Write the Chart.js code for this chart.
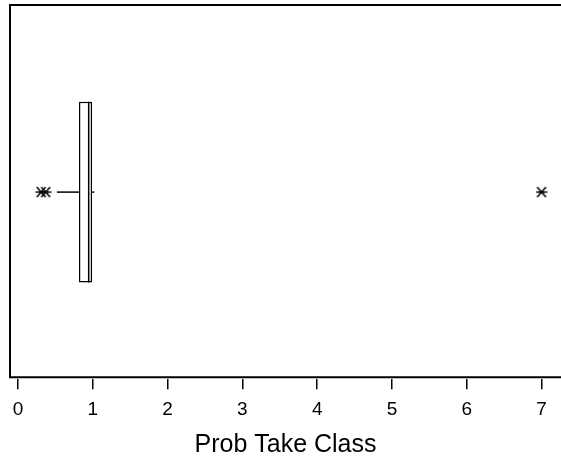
<!DOCTYPE html>
<html lang="en">
<head>
<meta charset="UTF-8">
<title>Prob Take Class</title>
<script src="https://cdn.jsdelivr.net/npm/chart.js"></script>
<style>
  html, body { margin: 0; padding: 0; background: #fff; overflow: hidden; }
  canvas { display: block; }
</style>
</head>
<body>
<canvas id="grafico" width="561" height="457"></canvas>
<script>
// Boxplot data
const groups = ['Prob Take Class'];
const boxLow = [0.815];      // Q1
const boxHigh = [0.99];      // Q3
const medians = [0.945];
const whiskerLow = [0.52];
const whiskerHigh = [1.02];
const outliers = [0.31, 0.37, 7.0];
const tickValues = [0, 1, 2, 3, 4, 5, 6, 7];
const axisTitle = 'Prob Take Class';

const FONT = "'Liberation Sans', Arial, sans-serif";

// asterisk marker used for outliers
function makeStar(size) {
    const c = document.createElement('canvas');
    c.width = size; c.height = size;
    const g = c.getContext('2d');
    const m = size / 2, r = size / 2 - 0.5;
    g.strokeStyle = '#000';
    g.lineWidth = 1.6;
    g.beginPath();
    g.moveTo(m - r, m); g.lineTo(m + r, m);
    g.moveTo(m - r * 0.8, m - r * 0.9); g.lineTo(m + r * 0.8, m + r * 0.9);
    g.moveTo(m - r * 0.8, m + r * 0.9); g.lineTo(m + r * 0.8, m - r * 0.9);
    g.stroke();
    return c;
}

// median, whiskers and the frame around the plot
const boxExtras = {
    id: 'boxExtras',
    afterDatasetsDraw(chart) {
        const ctx = chart.ctx;
        const x = chart.scales.x;
        const a = chart.chartArea;
        const line = (x1, y1, x2, y2) => {
            ctx.beginPath(); ctx.moveTo(x1, y1); ctx.lineTo(x2, y2); ctx.stroke();
        };
        ctx.save();
        ctx.strokeStyle = '#000';
        ctx.lineWidth = 1.5;
        chart.getDatasetMeta(0).data.forEach((bar, i) => {
            const top = bar.y - bar.height / 2;
            const bottom = bar.y + bar.height / 2;
            const xm = x.getPixelForValue(medians[i]);
            line(xm, top, xm, bottom);
            line(x.getPixelForValue(whiskerLow[i]), bar.y, x.getPixelForValue(boxLow[i]), bar.y);
            line(x.getPixelForValue(boxHigh[i]), bar.y, x.getPixelForValue(whiskerHigh[i]), bar.y);
        });
        ctx.lineWidth = 2;
        ctx.beginPath();
        ctx.moveTo(a.right + 20, a.top);
        ctx.lineTo(a.left, a.top);
        ctx.lineTo(a.left, a.bottom - 2);
        ctx.lineTo(a.right + 20, a.bottom - 2);
        ctx.stroke();
        ctx.restore();
    }
};

const ctx = document.getElementById('grafico').getContext('2d');
const chart = new Chart(ctx, {
    type: 'bar',
    data: {
        labels: groups,
        datasets: [
            {
                label: 'box',
                data: groups.map((g, i) => [boxLow[i], boxHigh[i]]),
                backgroundColor: '#fff',
                borderColor: '#000',
                borderWidth: 1.5,
                borderSkipped: false,
                categoryPercentage: 1,
                barPercentage: 0.483
            },
            {
                type: 'scatter',
                label: 'outliers',
                data: outliers.map(v => ({ x: v, y: groups[0] })),
                pointStyle: makeStar(12),
                pointRadius: 6,
                pointHoverRadius: 6
            }
        ]
    },
    options: {
        responsive: false,
        animation: false,
        indexAxis: 'y',
        layout: { autoPadding: false, padding: { left: 10, top: 5, right: 0, bottom: -3 } },
        plugins: {
            legend: { display: false },
            tooltip: { enabled: false }
        },
        scales: {
            x: {
                type: 'linear',
                min: -0.107,
                max: 7.26,
                afterBuildTicks: s => { s.ticks = tickValues.map(v => ({ value: v })); },
                afterFit: s => { s.paddingLeft = 0; s.paddingRight = 0; },
                grid: { drawOnChartArea: false, drawTicks: true, tickLength: 10, color: '#000', lineWidth: 1.5 },
                border: { display: false },
                ticks: {
                    color: '#000',
                    font: { family: FONT, size: 19 },
                    padding: 9,
                    maxRotation: 0,
                    autoSkip: false
                },
                title: {
                    display: true,
                    text: axisTitle,
                    color: '#000',
                    font: { family: FONT, size: 25 },
                    padding: { top: 0, bottom: 0 }
                }
            },
            y: {
                type: 'category',
                display: false
            }
        }
    },
    plugins: [boxExtras]
});
</script>
</body>
</html>
